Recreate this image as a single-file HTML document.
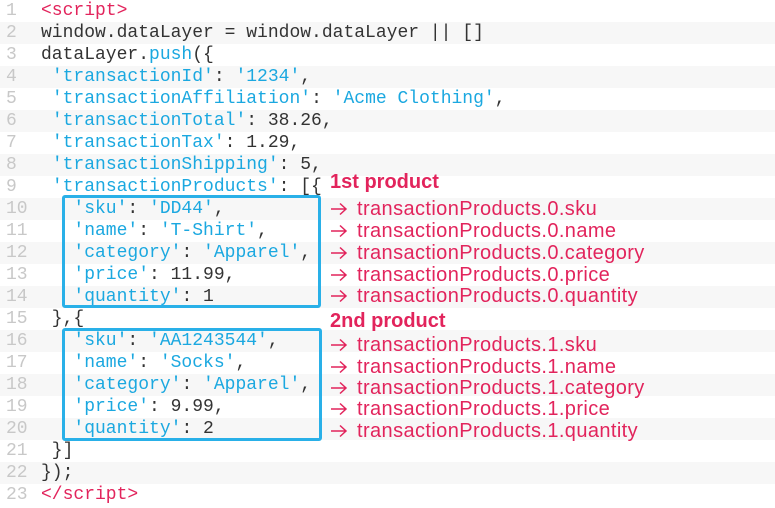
<!DOCTYPE html>
<html><head><meta charset="utf-8"><style>
body{margin:0;width:775px;height:508px;overflow:hidden;background:#fff;position:relative;font-family:"Liberation Mono",monospace;}
.row{position:absolute;left:0;width:775px;height:22px;line-height:22px;font-size:18px;color:#333;white-space:pre;}
.row.g{background:#f7f7f7;}
.n{position:absolute;left:6px;color:#c8c8c8;}
.c{position:absolute;left:41px;}
.b{color:#1ba8e0;}
.r{color:#e2245c;}
.box{position:absolute;border:3px solid #29b0e8;border-radius:3px;box-sizing:border-box;}
.lab{position:absolute;left:330px;font-family:"Liberation Sans",sans-serif;font-size:20px;letter-spacing:0.4px;color:#e2245c;white-space:pre;line-height:22px;}
.lab svg{display:inline-block;width:27px;height:14px;vertical-align:-1px;}
.h{font-weight:bold;letter-spacing:0;}
</style></head><body>
<div class="row" style="top:0"><span class="n">1</span><span class="c"><span class="r">&lt;script&gt;</span></span></div>
<div class="row g" style="top:22px"><span class="n">2</span><span class="c">window.dataLayer = window.dataLayer || []</span></div>
<div class="row" style="top:44px"><span class="n">3</span><span class="c">dataLayer.<span class="b">push</span>({</span></div>
<div class="row g" style="top:66px"><span class="n">4</span><span class="c"> <span class="b">'transactionId'</span>: <span class="b">'1234'</span>,</span></div>
<div class="row" style="top:88px"><span class="n">5</span><span class="c"> <span class="b">'transactionAffiliation'</span>: <span class="b">'Acme Clothing'</span>,</span></div>
<div class="row g" style="top:110px"><span class="n">6</span><span class="c"> <span class="b">'transactionTotal'</span>: 38.26,</span></div>
<div class="row" style="top:132px"><span class="n">7</span><span class="c"> <span class="b">'transactionTax'</span>: 1.29,</span></div>
<div class="row g" style="top:154px"><span class="n">8</span><span class="c"> <span class="b">'transactionShipping'</span>: 5,</span></div>
<div class="row" style="top:176px"><span class="n">9</span><span class="c"> <span class="b">'transactionProducts'</span>: [{</span></div>
<div class="row g" style="top:198px"><span class="n">10</span><span class="c">   <span class="b">'sku'</span>: <span class="b">'DD44'</span>,</span></div>
<div class="row" style="top:220px"><span class="n">11</span><span class="c">   <span class="b">'name'</span>: <span class="b">'T-Shirt'</span>,</span></div>
<div class="row g" style="top:242px"><span class="n">12</span><span class="c">   <span class="b">'category'</span>: <span class="b">'Apparel'</span>,</span></div>
<div class="row" style="top:264px"><span class="n">13</span><span class="c">   <span class="b">'price'</span>: 11.99,</span></div>
<div class="row g" style="top:286px"><span class="n">14</span><span class="c">   <span class="b">'quantity'</span>: 1</span></div>
<div class="row" style="top:308px"><span class="n">15</span><span class="c"> },{</span></div>
<div class="row g" style="top:330px"><span class="n">16</span><span class="c">   <span class="b">'sku'</span>: <span class="b">'AA1243544'</span>,</span></div>
<div class="row" style="top:352px"><span class="n">17</span><span class="c">   <span class="b">'name'</span>: <span class="b">'Socks'</span>,</span></div>
<div class="row g" style="top:374px"><span class="n">18</span><span class="c">   <span class="b">'category'</span>: <span class="b">'Apparel'</span>,</span></div>
<div class="row" style="top:396px"><span class="n">19</span><span class="c">   <span class="b">'price'</span>: 9.99,</span></div>
<div class="row g" style="top:418px"><span class="n">20</span><span class="c">   <span class="b">'quantity'</span>: 2</span></div>
<div class="row" style="top:440px"><span class="n">21</span><span class="c"> }]</span></div>
<div class="row g" style="top:462px"><span class="n">22</span><span class="c">});</span></div>
<div class="row" style="top:484px"><span class="n">23</span><span class="c"><span class="r">&lt;/script&gt;</span></span></div>

<div class="box" style="left:62px;top:195px;width:259px;height:113px"></div>
<div class="box" style="left:62px;top:328px;width:260px;height:113px"></div>

<svg width="0" height="0" style="position:absolute"><defs><symbol id="ar" viewBox="0 0 27 14"><path d="M1 7H16M10 1.5L16 7L10 12.5" fill="none" stroke="#e2245c" stroke-width="1.5"/></symbol></defs></svg>

<div class="lab h" style="top:171px">1st product</div>
<div class="lab" style="top:198px"><svg><use href="#ar"/></svg>transactionProducts.0.sku</div>
<div class="lab" style="top:220px"><svg><use href="#ar"/></svg>transactionProducts.0.name</div>
<div class="lab" style="top:242px"><svg><use href="#ar"/></svg>transactionProducts.0.category</div>
<div class="lab" style="top:264px"><svg><use href="#ar"/></svg>transactionProducts.0.price</div>
<div class="lab" style="top:285px"><svg><use href="#ar"/></svg>transactionProducts.0.quantity</div>
<div class="lab h" style="top:310px">2nd product</div>
<div class="lab" style="top:334px"><svg><use href="#ar"/></svg>transactionProducts.1.sku</div>
<div class="lab" style="top:356px"><svg><use href="#ar"/></svg>transactionProducts.1.name</div>
<div class="lab" style="top:377px"><svg><use href="#ar"/></svg>transactionProducts.1.category</div>
<div class="lab" style="top:398px"><svg><use href="#ar"/></svg>transactionProducts.1.price</div>
<div class="lab" style="top:420px"><svg><use href="#ar"/></svg>transactionProducts.1.quantity</div>
</body></html>
